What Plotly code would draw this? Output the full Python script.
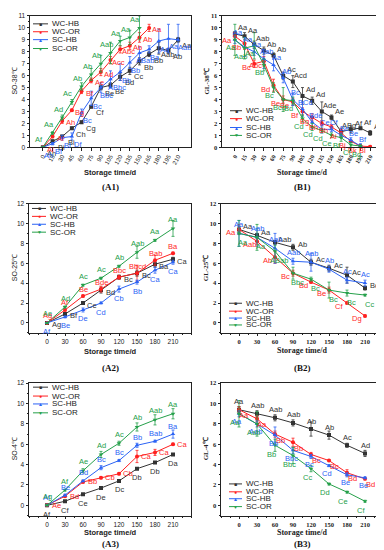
import plotly.graph_objects as go

W, H = 384, 550

series_names = ["WC-HB", "WC-OR", "SC-HB", "SC-OR"]
colors = ["#333333", "#ff1f1f", "#2b63f5", "#25a04a"]
symbols = ["square", "circle", "triangle-up", "triangle-down"]
legend_glyphs = ["■", "●", "▲", "▼"]

days15 = [0, 15, 30, 45, 60, 75, 90, 105, 120, 135, 150, 165, 180, 195, 210]
days30 = [0, 30, 60, 90, 120, 150, 180, 210]

# ---------------- A1: SO-38°C ----------------
a1_wchb = [0, 0.5, 0.9, 1.6, 2.1, 3.4, 5.0, 5.2, 5.9, 6.4, 7.2, 7.8, 8.3, 8.1, 9.0]
a1_wchb_err = [0, 0.1, 0.1, 0.1, 0.1, 0.1, 0.2, 0.2, 0.3, 0.3, 0.3, 0.2, 0.5, 0.2, 0.2]
a1_wchb_lab = ["Ah", "Bi", "Bi", "Ch", "Cg", "Cf", "Be", "Be", "Bd", "Cc", "Bb", "Bb", "Aab", "Ab", "Aa"]
a1_wcor = [0, 0.9, 2.2, 3.1, 4.7, 5.6, 6.3, 7.3, 8.2, 8.5, 9.2, 10.0]
a1_wcor_err = [0, 0.1, 0.2, 0.1, 0.2, 0.2, 0.3, 0.3, 0.3, 0.3, 0.4, 0.3]
a1_wcor_lab = ["Ai", "Ai", "Ah", "Bg", "Bf", "Ae", "Ad", "Acc", "Abc", "Ab", "Ab", "Aa"]
a1_schb = [0, 0.3, 0.8, 0.9, 2.9, 4.1, 5.0, 5.7, 6.3, 7.1, 7.9, 8.2, 8.9, 9.1, 9.0]
a1_schb_err = [0, 0.1, 0.2, 0.3, 0.3, 0.6, 0.4, 0.7, 0.7, 0.5, 0.5, 0.3, 1.0, 1.2, 1.3]
a1_schb_lab = ["Ah", "Bf", "Bf", "Df", "Bc", "Bc", "Bbc", "ABbc", "Bb", "Bb", "ABab", "Ba", "Aa", "Aa", "Aab"]
a1_scor = [0, 1.2, 2.5, 3.8, 5.1, 6.1, 7.0, 7.9, 8.9, 9.2, 10.0]
a1_scor_err = [0, 0.1, 0.2, 0.2, 0.3, 0.5, 0.7, 0.9, 0.4, 0.6, 1.0]
a1_scor_lab = ["Af", "Aa", "Ad", "Ac", "Ab", "Ab", "Ab", "Aab", "Aa", "Aa", "Aa"]

# ---------------- B1: GL-38°C ----------------
b1_wchb = [9.5, 9.3, 8.6, 8.1, 7.7, 6.0, 5.5, 4.3, 3.9, 3.0, 2.5, 1.3, 1.5, 1.6, 1.2]
b1_wchb_err = [0.2, 0.3, 0.3, 0.3, 0.2, 0.3, 0.5, 0.7, 0.3, 0.8, 0.2, 0.3, 0.3, 0.1, 0.2]
b1_wchb_lab = ["Aa", "Aa", "Aab", "Ab", "Ab", "Ac", "Acd", "Ad", "Ad", "Ade", "Ae", "ABg", "Af", "Af", "Af"]
b1_wcor = [9.3, 8.7, 7.0, 7.2, 5.2, 4.0, 3.8, 3.0, 2.5, 2.0, 1.7, 1.2, 0.5, 0.1, 0.05]
b1_wcor_err = [0.3, 0.5, 0.3, 0.4, 0.5, 0.3, 0.3, 0.3, 0.3, 0.2, 0.2, 0.3, 0.1, 0.1, 0.1]
b1_wcor_lab = ["Aa", "Bb", "Bc", "Abc", "Bd", "Be", "Be", "Bf", "Bg", "Bh", "Bh", "Ai", "Bj", "Bk", "Bl"]
b1_schb = [9.0, 8.4, 8.0, 7.4, 6.9, 5.8, 4.0, 3.2, 2.1, 1.5, 1.5, 1.0, 0.6, 0.1]
b1_schb_err = [0.3, 0.8, 0.3, 0.8, 0.5, 0.4, 0.5, 0.6, 0.5, 0.3, 0.2, 0.2, 0.2, 0.2]
b1_schb_lab = ["Aa", "Aa", "Aa", "Aab", "Aa", "Ab", "Bc", "BCd", "Bde", "Ce", "Cf", "Be", "Be", "Bf"]
b1_scor = [9.0, 8.3, 8.5, 6.9, 5.0, 4.0, 3.9, 2.4, 1.7, 1.4, 1.0, 0.8, 0.2, 0.1]
b1_scor_err = [1.3, 0.9, 1.1, 0.5, 0.4, 1.0, 0.3, 0.3, 0.3, 0.2, 0.2, 0.3, 0.2, 0.1]
b1_scor_lab = ["Aa", "Aab", "Aa", "Bb", "Bc", "Bcd", "Bd", "Cd", "Cd", "Cd", "Ce", "Bf", "Cf", "Bg"]

# ---------------- A2: SO-25°C ----------------
a2_wchb = [0, 0.9, 2.0, 3.3, 4.6, 5.0, 5.9, 6.4]
a2_wchb_err = [0, 0.1, 0.1, 0.3, 0.2, 0.3, 0.3, 0.2]
a2_wchb_lab = ["Ag", "Bf", "Ce", "Bd", "Bc", "Bc", "Ba", "Ca"]
a2_wcor = [0, 1.3, 2.7, 3.4, 4.6, 5.0, 6.3, 7.0]
a2_wcor_err = [0, 0.1, 0.1, 0.3, 0.2, 0.8, 0.5, 0.1]
a2_wcor_lab = ["Ag", "Af", "Be", "Bde", "Bbc", "Bbcd", "Bab", "Ba"]
a2_schb = [0, 0.6, 1.3, 2.0, 3.4, 4.1, 5.3, 6.1]
a2_schb_err = [0, 0.1, 0.2, 0.1, 0.3, 0.2, 0.3, 0.2]
a2_schb_lab = ["Af", "Be", "De", "Cd", "Cb", "Bb", "Ca", "Ca"]
a2_scor = [0, 1.6, 3.8, 4.5, 5.7, 7.1, 8.3, 9.5]
a2_scor_err = [0, 0.1, 0.1, 0.1, 0.1, 0.6, 0.1, 0.8]
a2_scor_lab = ["Ae", "Ad", "Ac", "Ac", "Ab", "Aab", "Aa", "Aa"]

# ---------------- B2: GL-25°C ----------------
b2_wchb = [9.4, 8.8, 8.1, 7.6, 6.1, 5.5, 4.8, 3.5]
b2_wchb_err = [0.3, 0.2, 0.2, 0.3, 0.3, 0.3, 0.8, 0.2]
b2_wchb_lab = ["Aa", "Aa", "Aab", "Ab", "Ac", "Ac", "Ac", "Bd"]
b2_wcor = [9.4, 8.2, 6.6, 5.0, 4.1, 3.3, 2.0, 0.7]
b2_wcor_err = [0.5, 0.3, 0.6, 0.3, 0.1, 0.3, 0.1, 0.1]
b2_wcor_lab = ["Aa", "Aab", "Ab", "Bc", "Bd", "Be", "Cf", "Dg"]
b2_schb = [9.0, 8.6, 7.5, 6.2, 6.1, 5.4, 4.3, 4.0]
b2_schb_err = [1.3, 0.9, 1.5, 0.3, 0.9, 0.3, 0.3, 0.3]
b2_schb_lab = ["Aa", "Aab", "Aab", "Aab", "Aab", "Ab", "Ac", "Ac"]
b2_scor = [9.0, 8.6, 7.2, 5.0, 4.4, 3.3, 3.0, 2.8]
b2_scor_err = [1.3, 1.3, 0.6, 0.6, 0.2, 0.8, 0.3, 0.1]
b2_scor_lab = ["Aa", "Aa", "ABab", "Bbc", "Bc", "Bc", "Bc", "Cc"]

# ---------------- A3: SO-4°C ----------------
a3_wchb = [0, 0.4, 1.1, 1.7, 2.4, 3.6, 4.2, 5.0]
a3_wchb_err = [0, 0.05, 0.05, 0.05, 0.05, 0.05, 0.05, 0.05]
a3_wchb_lab = ["Af", "Cf", "Ce", "De", "Dc", "Db", "Db", "Da"]
a3_wcor = [0, 0.9, 2.3, 2.7, 3.1, 4.8, 5.2, 6.0]
a3_wcor_err = [0, 0.1, 0.1, 0.1, 0.1, 0.6, 0.3, 0.1]
a3_wcor_lab = ["Ae", "Bd", "Bb", "Cb", "Cb", "Ca", "Ca", "Ca"]
a3_schb = [0, 1.0, 2.4, 3.7, 4.4, 5.9, 6.3, 7.0]
a3_schb_err = [0, 0.1, 0.1, 0.2, 0.1, 0.2, 0.1, 0.4]
a3_schb_lab = ["Af", "Be", "Bd", "Bc", "Bc", "Bb", "Bab", "Ba"]
a3_scor = [0, 1.5, 3.4, 5.0, 6.1, 7.7, 8.4, 9.0]
a3_scor_err = [0, 0.1, 0.2, 0.3, 0.2, 0.4, 0.5, 0.5]
a3_scor_lab = ["Ag", "Af", "Ae", "Ad", "Ac", "Ab", "Aab", "Aa"]

# ---------------- B3: GL-4°C ----------------
b3_wchb = [9.4, 9.0, 8.6, 8.1, 7.5, 6.9, 5.9, 5.1]
b3_wchb_err = [0.3, 0.3, 0.3, 0.3, 0.7, 0.4, 0.2, 0.3]
b3_wchb_lab = ["Aa", "Aab", "Aab", "Aab", "Ab", "Ab", "Ac", "Ad"]
b3_wcor = [9.4, 8.5, 7.0, 6.2, 5.0, 4.4, 3.2, 2.6]
b3_wcor_err = [0.3, 0.3, 0.3, 0.4, 0.2, 0.1, 0.3, 0.1]
b3_wcor_lab = ["Aa", "Aa", "Bb", "Bb", "Bc", "Bc", "Bd", "Bd"]
b3_schb = [9.0, 8.0, 6.9, 5.4, 4.8, 3.9, 3.0, 2.7]
b3_schb_err = [0.3, 0.3, 0.8, 0.3, 0.2, 0.1, 0.2, 0.1]
b3_schb_lab = ["Aa", "Aab", "Bb", "Bbc", "Bc", "Cd", "Be", "Be"]
b3_scor = [9.0, 8.0, 5.9, 4.9, 3.6, 2.1, 1.3, 0.4]
b3_scor_err = [1.3, 1.2, 0.6, 0.8, 0.3, 0.1, 0.1, 0.1]
b3_scor_lab = ["Aa", "Aab", "Bb", "Bbc", "Cc", "Dd", "Ce", "Cf"]

SANS = "Liberation Sans, Arial, sans-serif"
SERIF = "Liberation Serif, Times New Roman, serif"

# panel geometry in pixels: (left, right, top, bottom)
panels = [
    dict(name="(A1)", ytitle="SO-38℃", x=days15, serif=False,
         data=[(a1_wchb, a1_wchb_err, a1_wchb_lab), (a1_wcor, a1_wcor_err, a1_wcor_lab),
               (a1_schb, a1_schb_err, a1_schb_lab), (a1_scor, a1_scor_err, a1_scor_lab)],
         box=(22, 183, 4, 137), yrange=[0, 11], ydtick=1, xrange=[-20, 230], xdtick=15, xangle=-60,
         shifts=[(9, -6), (8, -2), (6, -8), (-4, 8)],
         xt_y=163, tag_y=177, yt_x=7, legend=(25, 40, [12, 20, 28, 37])),
    dict(name="(B1)", ytitle="GL-38℃", x=days15, serif=True,
         data=[(b1_wchb, b1_wchb_err, b1_wchb_lab), (b1_wcor, b1_wcor_err, b1_wcor_lab),
               (b1_schb, b1_schb_err, b1_schb_lab), (b1_scor, b1_scor_err, b1_scor_lab)],
         box=(214, 375, 4, 137), yrange=[0, 11], ydtick=1, xrange=[-20, 230], xdtick=15, xangle=-60,
         shifts=[(8, 6), (-8, -4), (3, 7), (-4, -8)],
         xt_y=163, tag_y=177, yt_x=199, legend=(222, 234, [100, 108, 117, 125])),
    dict(name="(A2)", ytitle="SO-25℃", x=days30, serif=False,
         data=[(a2_wchb, a2_wchb_err, a2_wchb_lab), (a2_wcor, a2_wcor_err, a2_wcor_lab),
               (a2_schb, a2_schb_err, a2_schb_lab), (a2_scor, a2_scor_err, a2_scor_lab)],
         box=(21, 183, 194, 325), yrange=[-1, 12], ydtick=2, xrange=[-30, 240], xdtick=30, xangle=0,
         shifts=[(9, -2), (0, 7), (0, -9), (0, 9)],
         xt_y=344, tag_y=361, yt_x=6, legend=(24, 38, [199, 207, 215, 223])),
    dict(name="(B2)", ytitle="GL-25℃", x=days30, serif=True,
         data=[(b2_wchb, b2_wchb_err, b2_wchb_lab), (b2_wcor, b2_wcor_err, b2_wcor_lab),
               (b2_schb, b2_schb_err, b2_schb_lab), (b2_scor, b2_scor_err, b2_scor_lab)],
         box=(213, 375, 194, 325), yrange=[-1, 12], ydtick=2, xrange=[-30, 240], xdtick=30, xangle=0,
         shifts=[(9, 3), (-8, -3), (0, 9), (4, -9)],
         xt_y=343, tag_y=361, yt_x=198, legend=(221, 234, [295, 303, 310, 317])),
    dict(name="(A3)", ytitle="SO-4℃", x=days30, serif=False,
         data=[(a3_wchb, a3_wchb_err, a3_wchb_lab), (a3_wcor, a3_wcor_err, a3_wcor_lab),
               (a3_schb, a3_schb_err, a3_schb_lab), (a3_scor, a3_scor_err, a3_scor_lab)],
         box=(21, 183, 376, 510), yrange=[-1, 12], ydtick=2, xrange=[-30, 240], xdtick=30, xangle=0,
         shifts=[(0, -9), (9, 0), (0, 8), (0, 9)],
         xt_y=527, tag_y=539, yt_x=6, legend=(25, 40, [380, 389, 397, 406])),
    dict(name="(B3)", ytitle="GL-4℃", x=days30, serif=True,
         data=[(b3_wchb, b3_wchb_err, b3_wchb_lab), (b3_wcor, b3_wcor_err, b3_wcor_lab),
               (b3_schb, b3_schb_err, b3_schb_lab), (b3_scor, b3_scor_err, b3_scor_lab)],
         box=(213, 375, 376, 510), yrange=[-1, 12], ydtick=2, xrange=[-30, 240], xdtick=30, xangle=0,
         shifts=[(0, 8), (5, -6), (-2, -8), (-4, -9)],
         xt_y=527, tag_y=539, yt_x=198, legend=(221, 234, [478, 486, 493, 501])),
]


def px(xp):
    return xp / W


def py(yp):
    return 1 - yp / H


fig = go.Figure()
annotations = []
shapes = []

for i, p in enumerate(panels):
    n = i + 1
    xa = "x" if n == 1 else f"x{n}"
    ya = "y" if n == 1 else f"y{n}"
    xkey = "xaxis" if n == 1 else f"xaxis{n}"
    ykey = "yaxis" if n == 1 else f"yaxis{n}"
    l, r, t, b = p["box"]
    tick_family = SERIF if p["serif"] else SANS
    tick_weight = "bold" if p["serif"] else "normal"

    for s, (vals, errs, labs) in enumerate(p["data"]):
        xs = p["x"][:len(vals)]
        fig.add_trace(go.Scatter(
            x=xs, y=vals, mode="lines+markers", name=series_names[s],
            xaxis=xa, yaxis=ya, showlegend=False,
            line=dict(color=colors[s], width=1),
            marker=dict(symbol=symbols[s], size=4, color=colors[s]),
            error_y=dict(type="data", array=errs, color=colors[s], thickness=0.8, width=1.5),
        ))
        dx, dy = p["shifts"][s]
        for xv, yv, lab in zip(xs, vals, labs):
            annotations.append(dict(
                x=xv, y=yv, xref=xa, yref=ya, text=lab, showarrow=False,
                xshift=dx, yshift=dy, font=dict(family=SANS, size=7.5, color=colors[s]),
            ))

    xaxis = dict(
        domain=[px(l), px(r)], anchor=ya, range=p["xrange"], tickmode="array",
        tickvals=p["x"], ticktext=[str(v) for v in p["x"]],
        tickangle=p["xangle"], showgrid=False, zeroline=False,
        showline=True, mirror=True, linecolor="#222", linewidth=1,
        ticks="outside", ticklen=2.5, tickcolor="#222",
        tickfont=dict(family=tick_family, size=6 if p["xdtick"] == 15 else 6.5, color="#222", weight=tick_weight),
    )
    if p["xdtick"] == 30:
        xaxis["minor"] = dict(ticks="outside", ticklen=1.5, dtick=15, tick0=0, tickcolor="#222")
    fig.update_layout({xkey: xaxis})
    fig.update_layout({ykey: dict(
        domain=[py(b), py(t)], anchor=xa, range=p["yrange"], tickmode="linear", tick0=0,
        dtick=p["ydtick"], showgrid=False, zeroline=False,
        showline=True, mirror=True, linecolor="#222", linewidth=1,
        ticks="outside", ticklen=2.5, tickcolor="#222",
        minor=dict(ticks="outside", ticklen=1.5, dtick=p["ydtick"] / 2, tickcolor="#222"),
        tickfont=dict(family=tick_family, size=6.5, color="#222", weight=tick_weight),
    )})

    # axis titles and panel tag
    cx = (l + r) / 2
    title_font = dict(family=SERIF if p["serif"] else SANS, size=8 if p["serif"] else 7.5,
                      color="#222", weight="bold")
    annotations.append(dict(x=px(cx), y=py(p["xt_y"]), xref="paper", yref="paper",
                            text="Storage time/d", showarrow=False, font=title_font,
                            xanchor="center", yanchor="middle"))
    annotations.append(dict(x=px(cx), y=py(p["tag_y"]), xref="paper", yref="paper",
                            text=p["name"], showarrow=False,
                            font=dict(family=SERIF, size=9, color="#111", weight="bold"),
                            xanchor="center", yanchor="middle"))
    annotations.append(dict(x=px(p["yt_x"]), y=py((t + b) / 2), xref="paper", yref="paper",
                            text=p["ytitle"], showarrow=False, textangle=-90,
                            font=dict(family=SERIF if p["serif"] else SANS, size=7, color="#222",
                                      weight="bold" if p["serif"] else "normal"),
                            xanchor="center", yanchor="middle"))

    # compact legend
    lx0, lx1, rows = p["legend"]
    for s, yrow in enumerate(rows):
        shapes.append(dict(type="line", xref="paper", yref="paper",
                           x0=px(lx0), x1=px(lx1), y0=py(yrow), y1=py(yrow),
                           line=dict(color=colors[s], width=1)))
        annotations.append(dict(x=px((lx0 + lx1) / 2), y=py(yrow), xref="paper", yref="paper",
                                text=legend_glyphs[s], showarrow=False,
                                font=dict(size=5, color=colors[s]),
                                xanchor="center", yanchor="middle"))
        annotations.append(dict(x=px(lx1 + 2), y=py(yrow), xref="paper", yref="paper",
                                text=series_names[s], showarrow=False,
                                font=dict(family=SANS, size=8, color="#222"),
                                xanchor="left", yanchor="middle"))

fig.update_layout(
    width=W, height=H, margin=dict(l=0, r=0, t=0, b=0),
    paper_bgcolor="white", plot_bgcolor="white",
    showlegend=False, annotations=annotations, shapes=shapes,
)

fig.write_html("out.html")
